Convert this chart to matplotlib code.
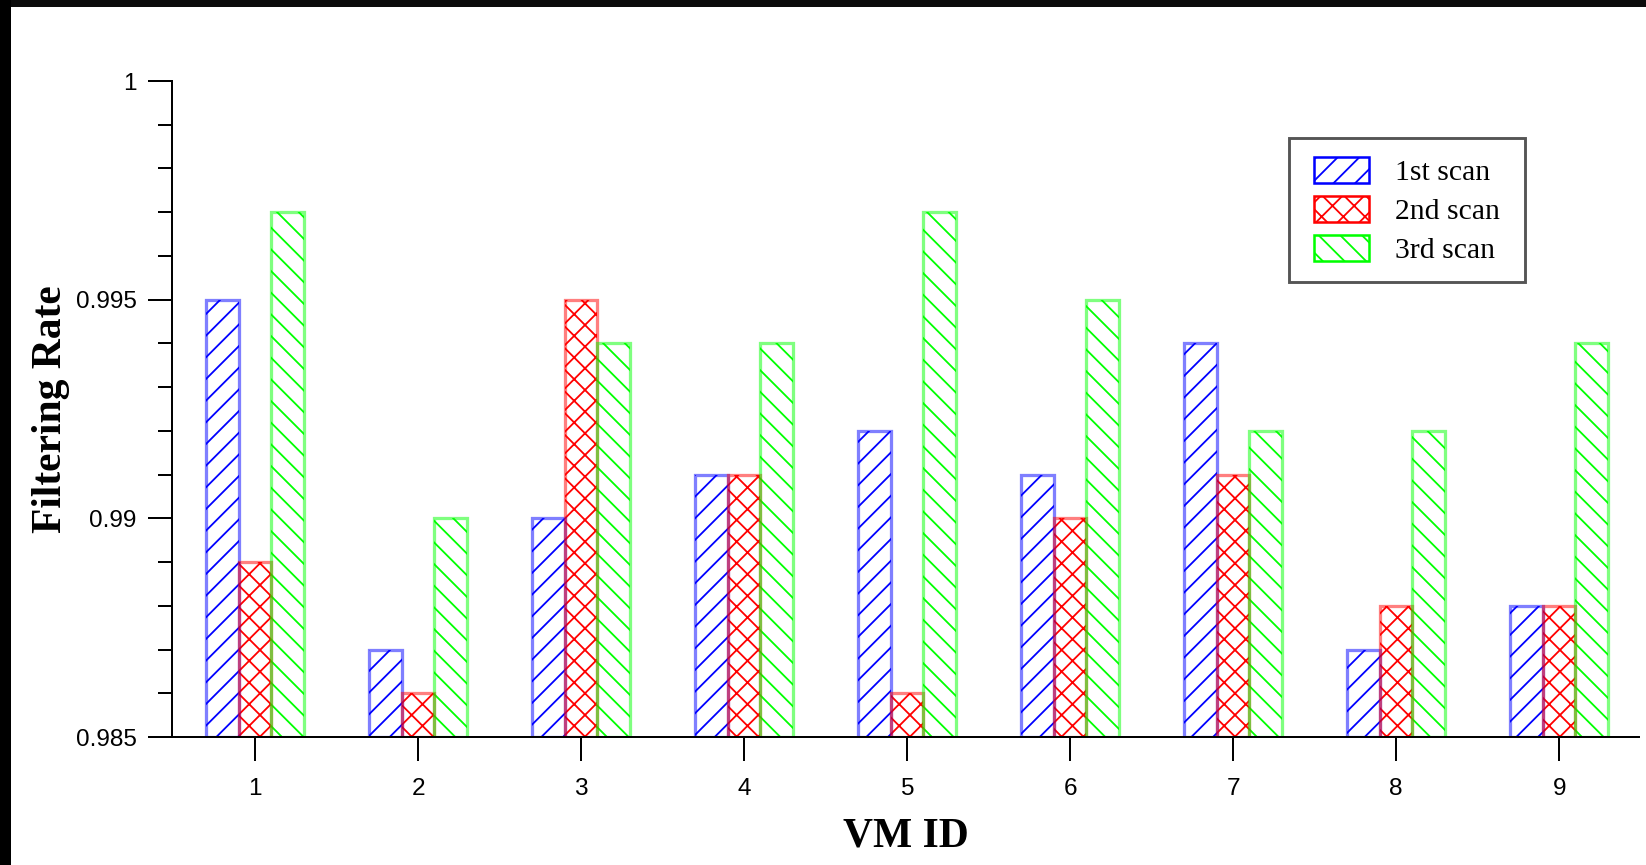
import matplotlib
matplotlib.use("Agg")
import matplotlib.pyplot as plt
import numpy as np
from matplotlib.patches import Patch, Rectangle
from matplotlib.ticker import MultipleLocator, FixedLocator

vm_ids = [1, 2, 3, 4, 5, 6, 7, 8, 9]
series_names = ["1st scan", "2nd scan", "3rd scan"]
scan1 = [0.995, 0.987, 0.990, 0.991, 0.992, 0.991, 0.994, 0.987, 0.988]
scan2 = [0.989, 0.986, 0.995, 0.991, 0.986, 0.990, 0.991, 0.988, 0.988]
scan3 = [0.997, 0.990, 0.994, 0.994, 0.997, 0.995, 0.992, 0.992, 0.994]
ytick_labels = ["0.985", "0.99", "0.995", "1"]

colors = ["#0000FF", "#FF0000", "#00FF00"]
hatches = ["//", "xx", "\\\\"]
ymin, ymax = 0.985, 1.0

W, H = 1646, 865
DPI = 130
plt.rcParams['hatch.linewidth'] = 1.0
fig = plt.figure(figsize=(W / DPI, H / DPI), dpi=DPI)
ax = fig.add_axes([172 / W, 1 - 737 / H, (1639 - 172) / W, (737 - 81) / H])

x = np.array(vm_ids, dtype=float)
width = 0.2
for i, (vals, c, h) in enumerate(zip([scan1, scan2, scan3], colors, hatches)):
    heights = np.array(vals) - ymin
    pos = x + (i - 1) * width
    ax.bar(pos, heights, width=width, bottom=ymin, facecolor="white",
           edgecolor=c, hatch=h, linewidth=0, zorder=2)
    ax.bar(pos, heights, width=width, bottom=ymin, facecolor="none",
           edgecolor=c, alpha=0.5, linewidth=1.8, zorder=3)

ax.set_xlim(0.49, 9.49)
ax.set_ylim(ymin, ymax)
ax.spines['top'].set_visible(False)
ax.spines['right'].set_visible(False)
for s in ['left', 'bottom']:
    ax.spines[s].set_linewidth(1.1)
    ax.spines[s].set_zorder(5)

ax.set_xticks(vm_ids)
ax.set_xticklabels([str(v) for v in vm_ids])
ax.yaxis.set_major_locator(FixedLocator([0.985, 0.99, 0.995, 1.0]))
ax.set_yticklabels(ytick_labels)
ax.yaxis.set_minor_locator(MultipleLocator(0.001))
ax.tick_params(axis='both', which='major', direction='out', length=13.5, width=1.1,
               labelsize=13.5, pad=6)
ax.tick_params(axis='y', which='minor', direction='out', length=7.8, width=1.1)
ax.tick_params(axis='x', which='major', pad=9)
for lab in ax.get_xticklabels() + ax.get_yticklabels():
    lab.set_fontfamily(['Liberation Sans', 'DejaVu Sans'])

ax.set_xlabel("VM ID", fontsize=23, fontweight='bold', fontfamily='Liberation Serif', labelpad=10)
ax.set_ylabel("Filtering Rate", fontsize=23, fontweight='bold', fontfamily='Liberation Serif', labelpad=3)

handles = [Patch(facecolor='white', edgecolor=c, hatch=h, linewidth=1.4)
           for c, h in zip(colors, hatches)]
leg = fig.legend(handles, series_names, loc='upper left',
                 bbox_to_anchor=(1295 / W, 1 - 138 / H),
                 prop={'family': 'Liberation Serif', 'size': 16.5},
                 handlelength=1.85, handleheight=0.95, handletextpad=0.85,
                 labelspacing=0.33, borderpad=0.65, borderaxespad=0,
                 frameon=False)
# legend frame
fig.add_artist(Rectangle((1289 / W, 1 - 282 / H), (1525 - 1289) / W, (282 - 138) / H,
                         transform=fig.transFigure, facecolor='none',
                         edgecolor='#555555', linewidth=1.6, zorder=6))

# dark border strips at top and left of the original image
fig.add_artist(Rectangle((0, 1 - 7 / H), 1, 7 / H, transform=fig.transFigure,
                         facecolor='#0b0b0b', edgecolor='none', zorder=10))
fig.add_artist(Rectangle((0, 0), 11 / W, 1, transform=fig.transFigure,
                         facecolor='#000000', edgecolor='none', zorder=10))

fig.savefig("out.png", dpi=DPI)
